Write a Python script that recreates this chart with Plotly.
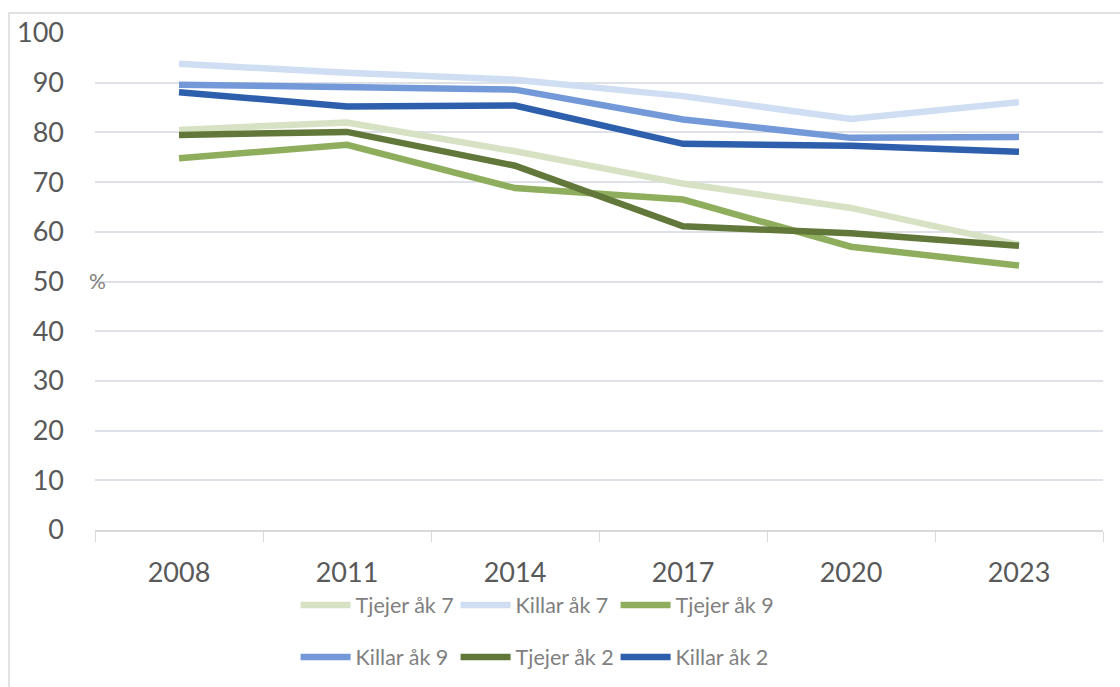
import plotly.graph_objects as go

years = ["2008", "2011", "2014", "2017", "2020", "2023"]
series_names = ["Tjejer åk 7", "Killar åk 7", "Tjejer åk 9", "Killar åk 9", "Tjejer åk 2", "Killar åk 2"]
tjejer_ak7 = [80.5, 82.0, 76.2, 69.7, 64.8, 57.4]
killar_ak7 = [93.8, 92.0, 90.6, 87.3, 82.7, 86.1]
tjejer_ak9 = [74.8, 77.5, 68.8, 66.5, 57.0, 53.2]
killar_ak9 = [89.6, 89.1, 88.6, 82.6, 78.9, 79.1]
tjejer_ak2 = [79.5, 80.1, 73.3, 61.1, 59.7, 57.2]
killar_ak2 = [88.1, 85.2, 85.4, 77.7, 77.3, 76.1]
colors = ["#D6E2C3", "#CFDEF2", "#8FAE5D", "#7399D8", "#62783A", "#2E5FAC"]
values = [tjejer_ak7, killar_ak7, tjejer_ak9, killar_ak9, tjejer_ak2, killar_ak2]

FONT = "Lato"
fig = go.Figure()
for i, (name, vals, col) in enumerate(zip(series_names, values, colors)):
    fig.add_trace(go.Scatter(
        x=years, y=vals, name=name, mode="lines",
        line=dict(color=col, width=6.5),
        legend="legend" if i < 3 else "legend2",
    ))

legend_common = dict(orientation="h", xanchor="left", yanchor="middle",
                     font=dict(size=21.5, color="#7F7F7F", family=FONT),
                     itemwidth=50, tracegroupgap=0, bgcolor="rgba(0,0,0,0)",
                     entrywidth=95, entrywidthmode="pixels")

fig.update_layout(
    width=1120, height=687,
    margin=dict(l=95, r=17, t=33, b=157, autoexpand=False),
    paper_bgcolor="white", plot_bgcolor="white",
    font=dict(family=FONT, color="#595959"),
    xaxis=dict(
        type="category", range=[-0.5, 5.5],
        showgrid=False, showline=True, linecolor="#D9D9D9", linewidth=1.5,
        ticks="outside", tickson="boundaries", ticklen=10, tickcolor="#D9D9D9",
        tickfont=dict(size=27, color="#595959"), ticklabelstandoff=18,
    ),
    yaxis=dict(
        range=[0, 100], dtick=10, showgrid=True, gridcolor="#DEE2E8", gridwidth=1.5,
        zeroline=False, showline=False,
        tickfont=dict(size=27, color="#595959"), ticklabelstandoff=30,
    ),
    legend=dict(x=0.199, y=-0.151, **legend_common),
    legend2=dict(x=0.199, y=-0.2555, **legend_common),
    showlegend=True,
)

fig.add_annotation(text="%", xref="paper", yref="paper", x=-0.008, y=0.503,
                   xanchor="left", yanchor="middle", showarrow=False,
                   font=dict(size=21, color="#7F7F7F", family=FONT))

fig.add_shape(type="rect", xref="paper", yref="paper",
              x0=-0.0853, x1=1.03, y0=-0.4, y1=1.0402,
              line=dict(color="#D9D9D9", width=1.5), fillcolor="rgba(0,0,0,0)", layer="below")

fig.write_html("out.html", config={"displayModeBar": False},
               post_script="document.body.style.margin='0';document.body.style.padding='0';")
